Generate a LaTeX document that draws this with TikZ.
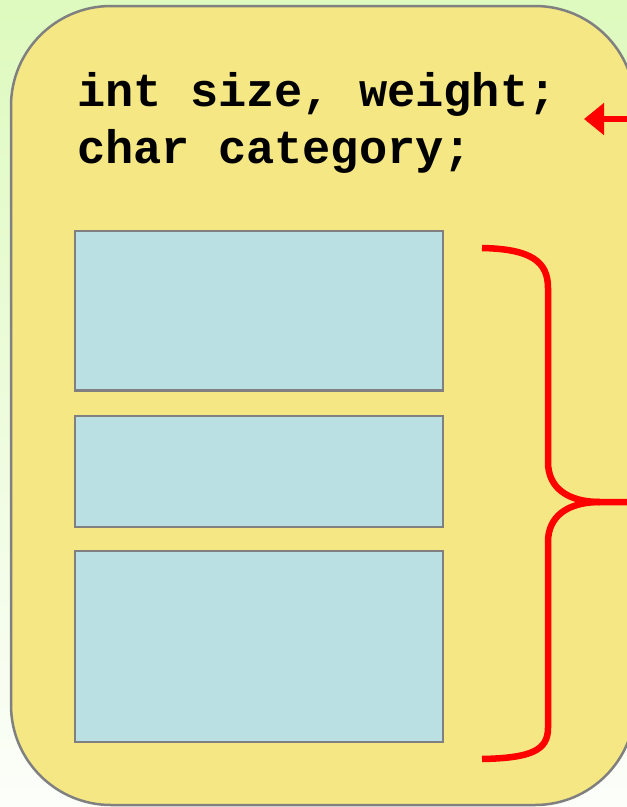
\documentclass[tikz,border=0pt]{standalone}
\usepackage{fontspec}
\setmonofont{Liberation Mono}
\usetikzlibrary{arrows.meta}
\definecolor{bgtop}{RGB}{222,250,190}
\definecolor{bgbot}{RGB}{252,254,250}
\definecolor{panel}{RGB}{244,231,132}
\definecolor{boxblue}{RGB}{187,224,227}
\definecolor{edgegrey}{RGB}{128,128,128}
\tikzset{
  panelstyle/.style={fill=panel, draw=edgegrey, line width=2.5pt, rounded corners=100pt},
  bluebox/.style={rectangle, fill=boxblue, draw=edgegrey, line width=2.5pt, inner sep=0pt, minimum width=368pt},
  codeline/.style={anchor=base west, inner sep=0pt, font=\ttfamily\bfseries\fontsize{47}{57}\selectfont},
  redline/.style={draw=red, line width=6.5pt},
}
\begin{document}
\begin{tikzpicture}[x=1pt,y=-1pt]
\useasboundingbox (0,0) rectangle (627,807);
\clip (0,0) rectangle (627,807);
\shade[top color=bgtop, bottom color=bgbot] (0,0) rectangle (627,807);
\draw[panelstyle] (11,6) rectangle (635,805);
\node[codeline] (l1) at (77,106) {int size, weight;};
\node[codeline] (l2) at (77,163) {char category;};
\node[bluebox, minimum height=159.5pt] (b1) at (259,310.75) {};
\node[bluebox, minimum height=111pt] (b2) at (259,471.5) {};
\node[bluebox, minimum height=191pt] (b3) at (259,646.5) {};
\coordinate (arrowfrom) at (650,119);
\coordinate (arrowto) at (584,119);
\draw[redline, -{Triangle[length=20pt,width=31pt]}] (arrowfrom) -- (arrowto);
\coordinate (bracetop) at (482,248);
\coordinate (bracebot) at (482,759);
\coordinate (bracetip) at (650,502);
\draw[redline] (bracetop) .. controls (532,249) and (548,262) .. (548,288)
  -- (548,462) .. controls (548,488) and (568,502) .. (600,502) -- (bracetip);
\draw[redline] (600,502) .. controls (568,502) and (548,516) .. (548,542)
  -- (548,728) .. controls (548,750) and (532,758) .. (bracebot);
\end{tikzpicture}
\end{document}
